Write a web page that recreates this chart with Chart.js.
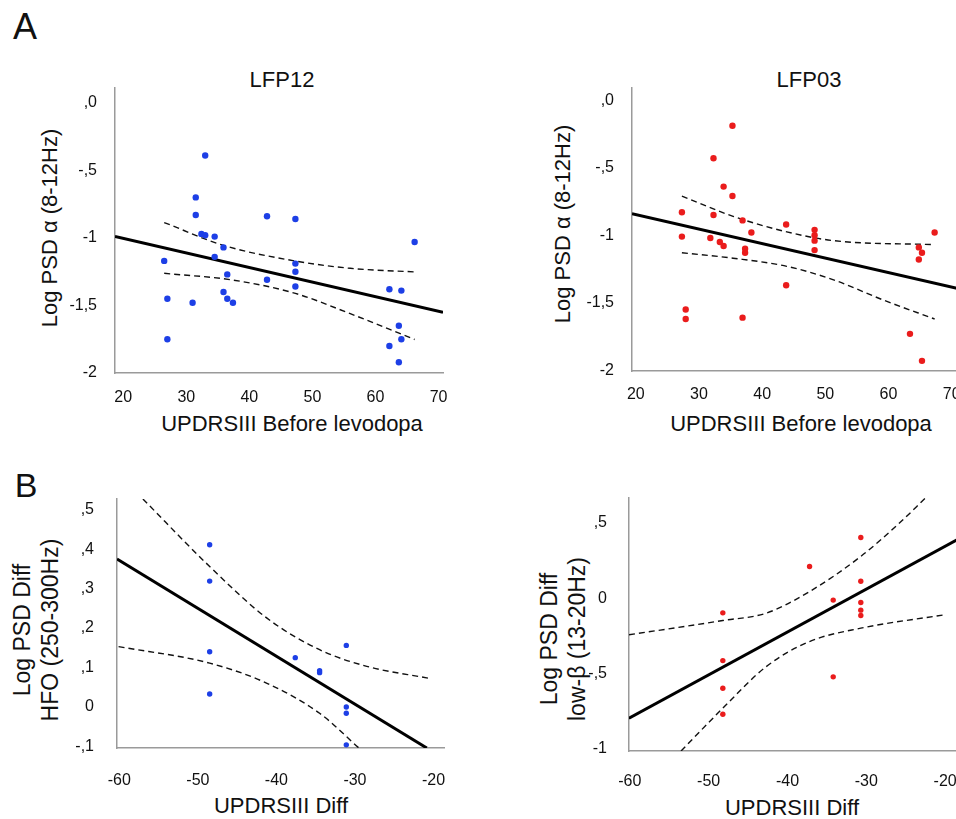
<!DOCTYPE html>
<html>
<head>
<meta charset="utf-8">
<script src="https://cdn.jsdelivr.net/npm/chart.js@4.4.1/dist/chart.umd.min.js"></script>
<style>
  html, body { margin: 0; padding: 0; background: #fff; overflow: hidden; width: 956px; height: 819px; }
  body { position: relative; font-family: "Liberation Sans", Arial, sans-serif; color: #111; }
  canvas { position: absolute; }
  .txt { position: absolute; white-space: nowrap; line-height: 1; transform: translate(-50%, -50%); }
  .rot { transform: translate(-50%, -50%) rotate(-90deg); text-align: center; }
</style>
</head>
<body>
<div class="txt" style="left:25px;top:27px;font-size:36px">A</div>
<div class="txt" style="left:26px;top:485px;font-size:34px">B</div>

<div class="txt" style="left:282px;top:80px;font-size:22px">LFP12</div>
<div class="txt" style="left:809px;top:80px;font-size:22px">LFP03</div>

<div class="txt" style="left:292px;top:424px;font-size:22px">UPDRSIII Before levodopa</div>
<div class="txt" style="left:801px;top:424px;font-size:22px">UPDRSIII Before levodopa</div>
<div class="txt" style="left:281px;top:806px;font-size:22px">UPDRSIII Diff</div>
<div class="txt" style="left:792px;top:808px;font-size:22px">UPDRSIII Diff</div>

<div class="txt rot" style="left:50px;top:228px;font-size:22px">Log PSD α (8-12Hz)</div>
<div class="txt rot" style="left:563px;top:224px;font-size:22px">Log PSD α (8-12Hz)</div>
<div class="txt rot" style="left:36px;top:630px;font-size:23px;line-height:28px">Log PSD Diff<br>HFO (250-300Hz)</div>
<div class="txt rot" style="left:563px;top:639px;font-size:23px;line-height:28px">Log PSD Diff<br>low-β (13-20Hz)</div>

<canvas id="lfp12" width="460" height="330" style="left:0;top:80px"></canvas>
<canvas id="lfp03" width="480" height="330" style="left:500px;top:80px"></canvas>
<canvas id="hfo" width="460" height="300" style="left:0;top:490px"></canvas>
<canvas id="beta" width="480" height="300" style="left:500px;top:490px"></canvas>

<script>
// A: UPDRSIII before levodopa vs log alpha power
const lfp12X = [26.5, 27.0, 27.0, 31.0, 31.5, 31.5, 33.0, 32.4, 33.0, 34.5, 34.5, 35.9, 36.5, 35.9, 36.5, 37.4, 42.8, 42.8, 47.3, 47.3, 47.3, 47.3, 62.2, 64.1, 63.7, 64.1, 62.2, 63.7, 66.2];
const lfp12Y = [-1.17, -1.45, -1.75, -1.48, -0.70, -0.83, -0.39, -0.97, -0.98, -0.99, -1.14, -1.07, -1.27, -1.40, -1.45, -1.48, -0.84, -1.31, -0.86, -1.19, -1.25, -1.36, -1.38, -1.39, -1.65, -1.75, -1.80, -1.92, -1.03];
const lfp12FitX = [18.7, 70.7];
const lfp12FitY = [-0.99, -1.55];
const lfp12UpX = [26.5, 35.9, 47.3, 56.0, 66.3];
const lfp12UpY = [-0.886, -1.055, -1.171, -1.225, -1.252];
const lfp12LoX = [26.5, 37.4, 47.3, 55.9, 66.2];
const lfp12LoY = [-1.262, -1.312, -1.411, -1.559, -1.752];

const lfp03X = [27.3, 27.3, 27.9, 27.9, 31.8, 32.3, 32.3, 33.3, 33.9, 33.9, 35.3, 35.3, 36.9, 36.9, 37.3, 37.3, 38.3, 43.8, 43.8, 48.3, 48.3, 48.3, 48.3, 63.4, 64.8, 64.8, 65.3, 65.3, 67.3];
const lfp03Y = [-0.83, -1.01, -1.55, -1.62, -1.02, -0.43, -0.85, -1.05, -0.64, -1.08, -0.19, -0.71, -0.89, -1.61, -1.10, -1.13, -0.98, -0.92, -1.37, -0.96, -1.00, -1.04, -1.11, -1.73, -1.09, -1.18, -1.13, -1.93, -0.98];
const lfp03FitX = [19.4, 71.0];
const lfp03FitY = [-0.84, -1.394];
const lfp03UpX = [27.3, 35.4, 43.9, 51.3, 67.3];
const lfp03UpY = [-0.71, -0.86, -0.975, -1.04, -1.07];
const lfp03LoX = [27.3, 35.4, 43.9, 51.3, 59.2, 67.3];
const lfp03LoY = [-1.13, -1.17, -1.23, -1.33, -1.48, -1.62];

const updrsTicks = [20, 30, 40, 50, 60, 70];
const updrsTickLabels = ["20", "30", "40", "50", "60", "70"];
const alphaTicks = [0, -0.5, -1, -1.5, -2];
const alphaTickLabels = [",0", "-,5", "-1", "-1,5", "-2"];

// B: UPDRSIII diff vs log power diff
const hfoX = [-48.5, -48.5, -48.5, -48.5, -37.6, -34.5, -34.5, -31.1, -31.1, -31.1, -31.1];
const hfoY = [0.411, 0.319, 0.140, 0.033, 0.125, 0.092, 0.087, 0.156, 0.0, -0.016, -0.096];
const hfoFitX = [-60.3, -20.85];
const hfoFitY = [0.375, -0.104];
const hfoUpX = [-57.0, -48.5, -41.2, -34.5, -28.5, -20.7];
const hfoUpY = [0.527, 0.356, 0.225, 0.145, 0.103, 0.073];
const hfoLoX = [-60.1, -48.5, -41.2, -34.5, -29.5];
const hfoLoY = [0.153, 0.111, 0.060, -0.016, -0.104];

const betaX = [-48.2, -48.2, -48.2, -48.2, -37.2, -34.2, -34.2, -30.7, -30.7, -30.7, -30.7, -30.7];
const betaY = [-0.098, -0.416, -0.60, -0.773, 0.211, -0.013, -0.524, 0.404, 0.113, -0.029, -0.08, -0.116];
const betaFitX = [-60.1, -18.5];
const betaFitY = [-0.80, 0.388];
const betaUpX = [-60.1, -48.2, -42.7, -37.2, -30.7, -25.8, -22.5];
const betaUpY = [-0.244, -0.149, -0.10, 0.044, 0.278, 0.50, 0.667];
const betaLoX = [-53.5, -48.2, -42.7, -37.2, -30.7, -20.1];
const betaLoY = [-1.018, -0.733, -0.456, -0.289, -0.20, -0.111];

const diffTicks = [-60, -50, -40, -30, -20];
const diffTickLabels = ["-60", "-50", "-40", "-30", "-20"];
const hfoTicks = [0.5, 0.4, 0.3, 0.2, 0.1, 0, -0.1];
const hfoTickLabels = [",5", ",4", ",3", ",2", ",1", "0", "-,1"];
const betaTicks = [0.5, 0, -0.5, -1];
const betaTickLabels = [",5", "0", "-,5", "-1"];

const BLUE = "#1d3fe6";
const RED = "#ea1c1c";
const tickFont = { family: "'Liberation Sans', Arial, sans-serif", size: 16 };

function pts(xs, ys) {
  return xs.map((x, i) => ({ x, y: ys[i] }));
}

function scatterPanel(id, o) {
  new Chart(document.getElementById(id), {
    type: "scatter",
    data: {
      datasets: [
        { data: pts(o.x, o.y), backgroundColor: o.color, borderWidth: 0, pointRadius: o.r, pointHoverRadius: o.r },
        { type: "line", data: pts(o.fitX, o.fitY), borderColor: "#000", borderWidth: 3, pointRadius: 0, fill: false },
        { type: "line", data: pts(o.upX, o.upY), borderColor: "#111", borderWidth: 1.4, borderDash: [6, 4], pointRadius: 0, fill: false, cubicInterpolationMode: "monotone" },
        { type: "line", data: pts(o.loX, o.loY), borderColor: "#111", borderWidth: 1.4, borderDash: [6, 4], pointRadius: 0, fill: false, cubicInterpolationMode: "monotone" }
      ]
    },
    options: {
      responsive: false,
      animation: false,
      events: [],
      layout: { padding: o.pad },
      plugins: { legend: { display: false }, tooltip: { enabled: false } },
      scales: {
        x: {
          type: "linear", min: o.xMin, max: o.xMax,
          grid: { display: false },
          border: { color: "#9a9a9a", width: 1.5 },
          ticks: { font: tickFont, color: "#111", padding: o.xPad, callback: (v, i) => o.xLabels[i] },
          afterBuildTicks: s => { s.ticks = o.xTicks.map(v => ({ value: v })); },
          afterFit: s => { s.height = o.xH; s.paddingLeft = 0; s.paddingRight = 0; }
        },
        y: {
          type: "linear", min: o.yMin, max: o.yMax,
          grid: { display: false },
          border: { color: "#9a9a9a", width: 1.5 },
          ticks: { font: tickFont, color: "#111", padding: o.yPad, callback: (v, i) => o.yLabels[i] },
          afterBuildTicks: s => { s.ticks = o.yTicks.map(v => ({ value: v })); },
          afterFit: s => { s.width = o.yW; s.paddingTop = 0; s.paddingBottom = 0; }
        }
      }
    }
  });
}

scatterPanel("lfp12", {
  x: lfp12X, y: lfp12Y, fitX: lfp12FitX, fitY: lfp12FitY,
  upX: lfp12UpX, upY: lfp12UpY, loX: lfp12LoX, loY: lfp12LoY,
  color: BLUE, r: 3.2,
  xMin: 18.7, xMax: 70.7, yMin: -2, yMax: 0.11,
  xTicks: updrsTicks, xLabels: updrsTickLabels, yTicks: alphaTicks, yLabels: alphaTickLabels,
  pad: { top: 8, left: 0, right: 17, bottom: 0 }, xH: 37, yW: 115, xPad: 7, yPad: 10
});

scatterPanel("lfp03", {
  x: lfp03X, y: lfp03Y, fitX: lfp03FitX, fitY: lfp03FitY,
  upX: lfp03UpX, upY: lfp03UpY, loX: lfp03LoX, loY: lfp03LoY,
  color: RED, r: 3.2,
  xMin: 19.4, xMax: 71, yMin: -2.005, yMax: 0.09,
  xTicks: updrsTicks, xLabels: updrsTickLabels, yTicks: alphaTicks, yLabels: alphaTickLabels,
  pad: { top: 8, left: 0, right: 22, bottom: 0 }, xH: 39, yW: 132, xPad: 6, yPad: 10
});

scatterPanel("hfo", {
  x: hfoX, y: hfoY, fitX: hfoFitX, fitY: hfoFitY,
  upX: hfoUpX, upY: hfoUpY, loX: hfoLoX, loY: hfoLoY,
  color: BLUE, r: 2.7,
  xMin: -60.3, xMax: -18.66, yMin: -0.104, yMax: 0.527,
  xTicks: diffTicks, xLabels: diffTickLabels, yTicks: hfoTicks, yLabels: hfoTickLabels,
  pad: { top: 9, left: 0, right: 16, bottom: 0 }, xH: 42, yW: 117, xPad: 15, yPad: 15
});

scatterPanel("beta", {
  x: betaX, y: betaY, fitX: betaFitX, fitY: betaFitY,
  upX: betaUpX, upY: betaUpY, loX: betaLoX, loY: betaLoY,
  color: RED, r: 2.7,
  xMin: -60.1, xMax: -18.5, yMin: -1.018, yMax: 0.667,
  xTicks: diffTicks, xLabels: diffTickLabels, yTicks: betaTicks, yLabels: betaTickLabels,
  pad: { top: 8, left: 0, right: 23, bottom: 0 }, xH: 39, yW: 129, xPad: 13, yPad: 14
});
</script>
</body>
</html>
